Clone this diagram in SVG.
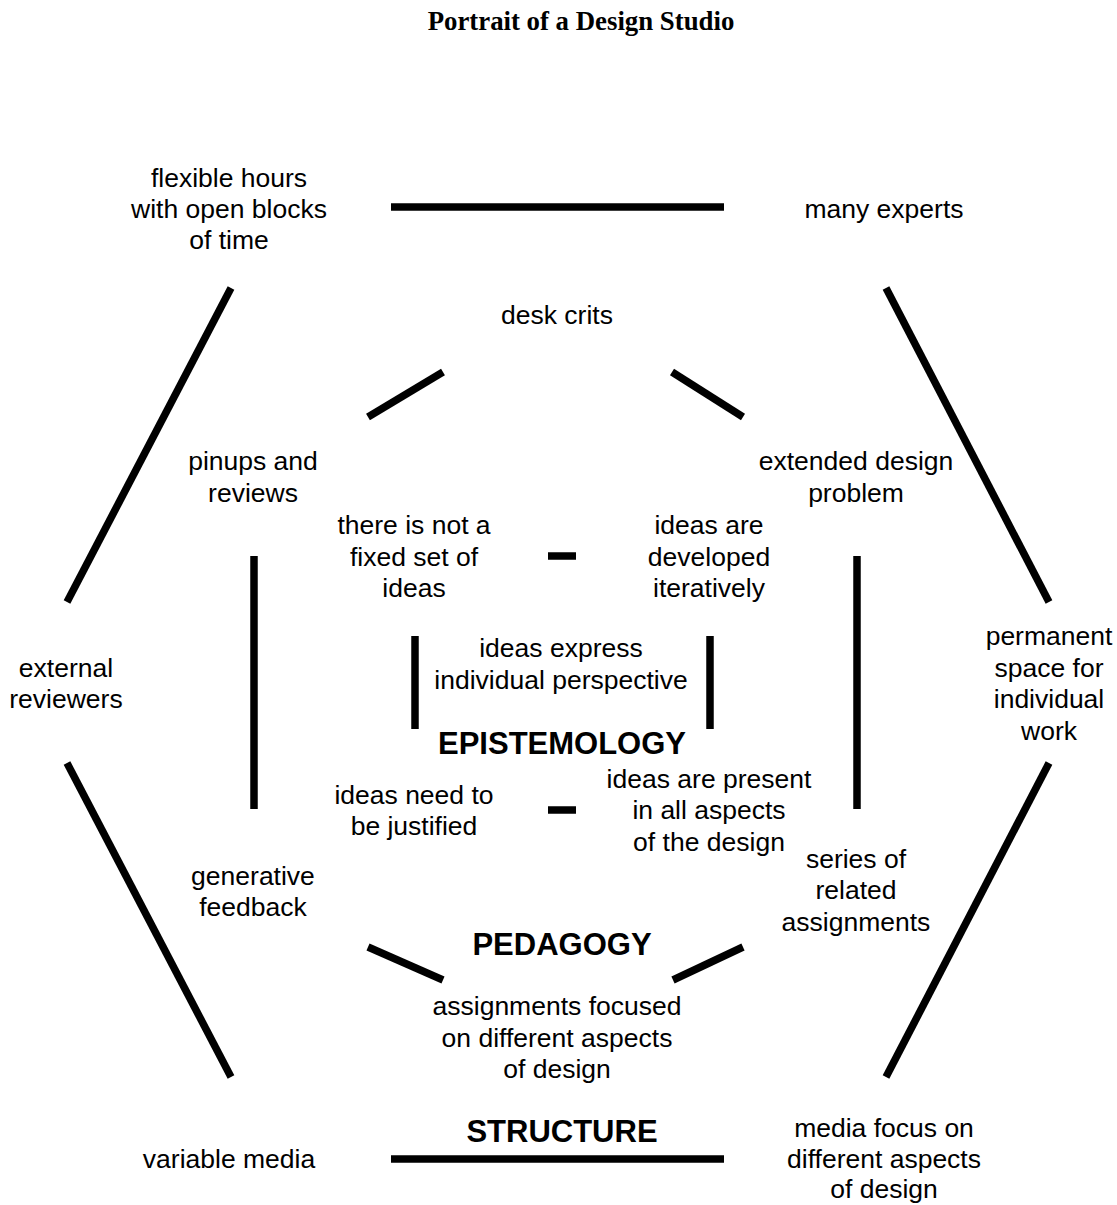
<svg xmlns="http://www.w3.org/2000/svg" width="1117" height="1205" viewBox="0 0 1117 1205">
  <style>
    .t { font-family: "Liberation Sans", Arial, sans-serif; font-size: 26.5px; fill: #000; text-anchor: middle; }
    .h { font-family: "Liberation Sans", Arial, sans-serif; font-size: 31px; font-weight: bold; fill: #000; text-anchor: middle; }
    .title { font-family: "Liberation Serif", "Times New Roman", serif; font-size: 26.8px; font-weight: bold; fill: #000; text-anchor: middle; }
    .c line { stroke: #000; stroke-width: 7.5; stroke-linecap: butt; }
  </style>
  <rect width="1117" height="1205" fill="#fff"/>

  <text class="title" x="581" y="30">Portrait of a Design Studio</text>

  <!-- connectors -->
  <g id="connectors" class="c">
    <!-- outer ring: structure -->
    <line x1="391" y1="207" x2="724" y2="207"/>
    <line x1="231" y1="288" x2="67" y2="602"/>
    <line x1="886" y1="288" x2="1049" y2="602"/>
    <line x1="67" y1="763" x2="231" y2="1077"/>
    <line x1="1049" y1="763" x2="886" y2="1077"/>
    <line x1="391" y1="1159" x2="724" y2="1159"/>
    <!-- middle ring: pedagogy -->
    <line x1="368" y1="417" x2="443" y2="372"/>
    <line x1="672" y1="372" x2="743" y2="417"/>
    <line x1="254" y1="556" x2="254" y2="809"/>
    <line x1="857" y1="556" x2="857" y2="809"/>
    <line x1="368" y1="947" x2="443" y2="980"/>
    <line x1="673" y1="980" x2="743" y2="947"/>
    <!-- inner ring: epistemology -->
    <line x1="548" y1="556" x2="576" y2="556"/>
    <line x1="548" y1="810" x2="576" y2="810"/>
    <line x1="415" y1="636" x2="415" y2="729"/>
    <line x1="710" y1="636" x2="710" y2="729"/>
  </g>

  <!-- outer ring nodes -->
  <g id="flexible-hours">
    <text class="t" x="229" y="187">flexible hours</text>
    <text class="t" x="229" y="218">with open blocks</text>
    <text class="t" x="229" y="249">of time</text>
  </g>
  <g id="many-experts">
    <text class="t" x="884" y="218">many experts</text>
  </g>
  <g id="external-reviewers">
    <text class="t" x="66" y="677">external</text>
    <text class="t" x="66" y="708">reviewers</text>
  </g>
  <g id="permanent-space">
    <text class="t" x="1049" y="645">permanent</text>
    <text class="t" x="1049" y="677">space for</text>
    <text class="t" x="1049" y="708">individual</text>
    <text class="t" x="1049" y="740">work</text>
  </g>
  <g id="variable-media">
    <text class="t" x="229" y="1168">variable media</text>
  </g>
  <g id="media-focus">
    <text class="t" x="884" y="1137">media focus on</text>
    <text class="t" x="884" y="1168">different aspects</text>
    <text class="t" x="884" y="1198">of design</text>
  </g>
  <g id="structure-label">
    <text class="h" x="562" y="1142">STRUCTURE</text>
  </g>

  <!-- middle ring nodes -->
  <g id="desk-crits">
    <text class="t" x="557" y="324">desk crits</text>
  </g>
  <g id="pinups">
    <text class="t" x="253" y="470">pinups and</text>
    <text class="t" x="253" y="502">reviews</text>
  </g>
  <g id="extended-problem">
    <text class="t" x="856" y="470">extended design</text>
    <text class="t" x="856" y="502">problem</text>
  </g>
  <g id="generative-feedback">
    <text class="t" x="253" y="885">generative</text>
    <text class="t" x="253" y="916">feedback</text>
  </g>
  <g id="series-assignments">
    <text class="t" x="856" y="868">series of</text>
    <text class="t" x="856" y="899">related</text>
    <text class="t" x="856" y="931">assignments</text>
  </g>
  <g id="focused-assignments">
    <text class="t" x="557" y="1015">assignments focused</text>
    <text class="t" x="557" y="1047">on different aspects</text>
    <text class="t" x="557" y="1078">of design</text>
  </g>
  <g id="pedagogy-label">
    <text class="h" x="562" y="955">PEDAGOGY</text>
  </g>

  <!-- inner ring nodes -->
  <g id="not-fixed">
    <text class="t" x="414" y="534">there is not a</text>
    <text class="t" x="414" y="566">fixed set of</text>
    <text class="t" x="414" y="597">ideas</text>
  </g>
  <g id="iterative">
    <text class="t" x="709" y="534">ideas are</text>
    <text class="t" x="709" y="566">developed</text>
    <text class="t" x="709" y="597">iteratively</text>
  </g>
  <g id="individual-perspective">
    <text class="t" x="561" y="657">ideas express</text>
    <text class="t" x="561" y="689">individual perspective</text>
  </g>
  <g id="epistemology-label">
    <text class="h" x="562" y="754">EPISTEMOLOGY</text>
  </g>
  <g id="justified">
    <text class="t" x="414" y="804">ideas need to</text>
    <text class="t" x="414" y="835">be justified</text>
  </g>
  <g id="all-aspects">
    <text class="t" x="709" y="788">ideas are present</text>
    <text class="t" x="709" y="819">in all aspects</text>
    <text class="t" x="709" y="851">of the design</text>
  </g>
</svg>
